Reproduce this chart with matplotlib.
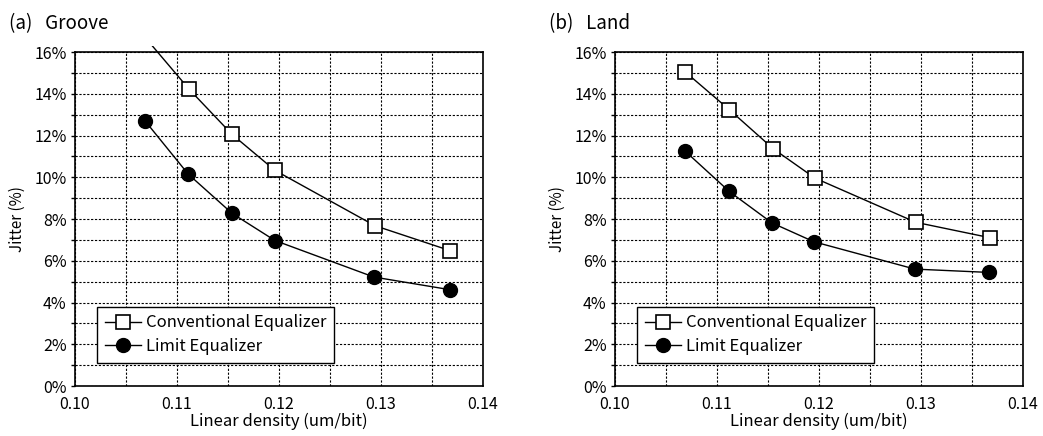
import matplotlib
matplotlib.use("Agg")
import matplotlib.pyplot as plt
from matplotlib.patches import Rectangle
from matplotlib.ticker import MultipleLocator, FuncFormatter

plt.rcParams['font.family'] = ['Noto Sans CJK JP', 'DejaVu Sans']

# Groove
groove_conv_x = [0.1067, 0.1112, 0.1154, 0.1196, 0.1294, 0.1368]
groove_conv_y = [16.8, 14.21, 12.05, 10.33, 7.68, 6.48]
groove_lim_x = [0.1069, 0.1111, 0.1154, 0.1196, 0.1293, 0.1368]
groove_lim_y = [12.68, 10.15, 8.27, 6.97, 5.22, 4.61]

# Land
land_conv_x = [0.1069, 0.1112, 0.1155, 0.1196, 0.1295, 0.1368]
land_conv_y = [15.04, 13.24, 11.37, 9.96, 7.84, 7.10]
land_lim_x = [0.1069, 0.1112, 0.1154, 0.1195, 0.1294, 0.1367]
land_lim_y = [11.24, 9.32, 7.81, 6.91, 5.60, 5.44]

titles = ['(a)   Groove', '(b)   Land']
series = [(groove_conv_x, groove_conv_y, groove_lim_x, groove_lim_y),
          (land_conv_x, land_conv_y, land_lim_x, land_lim_y)]

fig = plt.figure(figsize=(10.43, 4.36), dpi=100)
lefts = [75 / 1043, 615 / 1043]
title_x = [9 / 1043, 549 / 1043]

for i in range(2):
    ax = fig.add_axes([lefts[i], 50 / 436, 408 / 1043, 334 / 436])
    cx, cy, lx, ly = series[i]
    l1, = ax.plot(cx, cy, color='black', lw=1, marker='s', ms=9.5,
                  mfc='white', mec='black', mew=1.2, label='Conventional Equalizer')
    l2, = ax.plot(lx, ly, color='black', lw=1, marker='o', ms=10,
                  mfc='black', mec='black', label='Limit Equalizer')
    # let the line run a little past the top edge, like the original
    for ln in (l1, l2):
        ln.set_clip_path(Rectangle((0, 0), 1, 1.018, transform=ax.transAxes))

    ax.set_xlim(0.10, 0.14)
    ax.set_ylim(0, 16)
    ax.xaxis.set_major_locator(MultipleLocator(0.01))
    ax.xaxis.set_minor_locator(MultipleLocator(0.005))
    ax.yaxis.set_major_locator(MultipleLocator(2))
    ax.yaxis.set_minor_locator(MultipleLocator(1))
    ax.xaxis.set_major_formatter(FuncFormatter(lambda v, p: f'{v:.2f}'))
    ax.yaxis.set_major_formatter(FuncFormatter(lambda v, p: f'{v:.0f}%'))
    ax.grid(True, which='both', color='black', ls=(0, (2, 1.5)), lw=0.8)
    ax.tick_params(axis='x', which='both', length=0, labelsize=11.5, pad=7)
    ax.tick_params(axis='y', which='both', length=3, width=1, labelsize=11.5, pad=3)
    for s in ax.spines.values():
        s.set_linewidth(1.2)
        s.set_zorder(5)

    ax.set_xlabel('Linear density (um/bit)', fontsize=12, labelpad=0)
    ax.set_ylabel('Jitter (%)', fontsize=11, labelpad=6)
    fig.text(title_x[i], 1 - 24 / 436, titles[i], fontsize=13.5,
             ha='left', va='center')

    leg = ax.legend(loc='lower left', bbox_to_anchor=(0.054, 0.07),
                    borderaxespad=0, fancybox=False, edgecolor='black',
                    framealpha=1, fontsize=12, handlelength=2.2,
                    handletextpad=0.3, labelspacing=0.4, borderpad=0.45)
    leg.get_frame().set_linewidth(1.0)

fig.savefig('out.png', dpi=100)
